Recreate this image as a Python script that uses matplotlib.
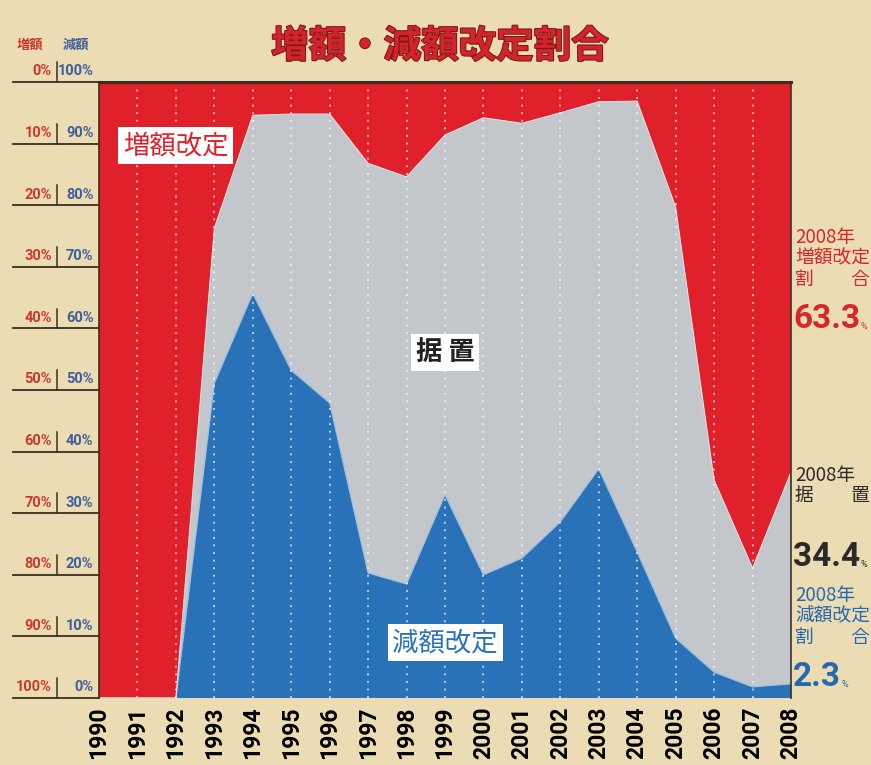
import numpy as np
import matplotlib
matplotlib.use('Agg')
import matplotlib.pyplot as plt
import matplotlib.transforms as mtransforms
import matplotlib.patheffects as pe

plt.rcParams['font.family'] = ['Noto Sans CJK JP', 'DejaVu Sans']

# share of rent revisions per year [%]
years = list(range(1990, 2009))
increase = [100.0, 100.0, 100.0, 23.7, 5.4, 5.2, 5.2, 13.2, 15.4, 8.6,
            5.8, 6.7, 5.0, 3.2, 3.1, 20.3, 64.6, 78.9, 63.3]
unchanged = [0.0, 0.0, 0.0, 25.2, 28.9, 41.6, 46.9, 66.5, 66.1, 58.4,
             74.2, 70.6, 66.4, 59.6, 73.2, 70.0, 31.2, 19.3, 34.4]
decrease = [0.0, 0.0, 0.0, 51.1, 65.7, 53.2, 47.9, 20.3, 18.5, 33.0,
            20.0, 22.7, 28.6, 37.2, 23.7, 9.7, 4.2, 1.8, 2.3]
left_inc = ['0%', '10%', '20%', '30%', '40%', '50%', '60%', '70%', '80%', '90%', '100%']
left_dec = ['100%', '90%', '80%', '70%', '60%', '50%', '40%', '30%', '20%', '10%', '0%']

bg = '#ecdcb4'
red = '#e0202a'
grey = '#c3c6ca'
blue = '#2a72b8'
txt_red = '#c93a2c'
txt_blue = '#3d5f9c'
dark = '#3b2e1e'
num_font = ['Roboto', 'DejaVu Sans']

W, H = 871, 765
fig = plt.figure(figsize=(W/100, H/100), dpi=100, facecolor=bg)
ax = fig.add_axes([99/W, 67/H, 692/W, 616/H])

ax.stackplot(years, decrease, unchanged, increase,
             colors=[blue, grey, red], linewidth=0)
# thin light edges between the layers
dec = np.array(decrease)
mid = dec + np.array(unchanged)
ax.plot(years, dec, color='#9cc0e0', lw=0.9)
ax.plot(years, mid, color='#e6e6e6', lw=0.7)

# white dotted guides at each year
for y in years[1:-1]:
    ax.axvline(y, color='white', lw=1.3, alpha=0.75, ls=(0, (1, 3.2)))

ax.set_xlim(1990, 2008)
ax.set_ylim(0, 100)
ax.set_yticks([])
ax.set_xticks(years)
ax.set_xticklabels([str(y) for y in years], rotation=90, fontsize=16.5,
                   fontweight='bold', family=num_font)
ax.tick_params(axis='x', length=0, pad=6)
for s in ['left', 'right']:
    ax.spines[s].set_color(dark)
    ax.spines[s].set_linewidth(1.2)
ax.spines['top'].set_color(dark)
ax.spines['top'].set_linewidth(2.2)
ax.spines['bottom'].set_visible(False)

# dual left scale: increase from top, decrease from bottom
tr = mtransforms.blended_transform_factory(ax.transAxes, ax.transData)
for i in range(11):
    lvl = 100 - i*10
    ax.plot([-0.124, 0], [lvl, lvl], color=dark, lw=1.3, transform=tr, clip_on=False)
    ax.plot([-0.061, -0.061], [lvl, lvl + 3.2], color=dark, lw=1.1, transform=tr, clip_on=False)
    ax.text(-0.068, lvl + 0.6, left_inc[i], transform=tr, ha='right', va='bottom',
            color=txt_red, fontsize=10.5, fontweight='bold', family=num_font)
    ax.text(-0.008, lvl + 0.6, left_dec[i], transform=tr, ha='right', va='bottom',
            color=txt_blue, fontsize=10.5, fontweight='bold', family=num_font)
fig.text(30/W, 1 - 45/H, '増額', color=txt_red, fontsize=9.5, fontweight='bold',
         ha='center', va='center')
fig.text(76/W, 1 - 45/H, '減額', color=txt_blue, fontsize=9.5, fontweight='bold',
         ha='center', va='center')

fig.text(440/W, 1 - 46/H, '増額・減額改定割合', color='#d3242a', fontsize=27,
         fontweight='bold', ha='center', va='center',
         path_effects=[pe.withStroke(linewidth=1.5, foreground='#7a1a18')])

# layer names
box = dict(boxstyle='square,pad=0.18', fc='white', ec='none')
ax.text(1992.0, 89.7, '増額改定', color=red, fontsize=19, ha='center', va='center', bbox=box)
ax.text(1999.0, 56.1, '据 置', color='#222222', fontsize=19, fontweight='bold',
        ha='center', va='center', bbox=box)
ax.text(1999.0, 9.0, '減額改定', color=blue, fontsize=19, ha='center', va='center', bbox=box)

# 2008 values on the right
def side_label(y_top, lines, value, color):
    x = 795/W
    for k, s in enumerate(lines):
        fig.text(x, 1 - (y_top + k*21)/H, s, color=color, fontsize=13.5,
                 ha='left', va='center')
    t = fig.text(x - 2/W, 1 - (y_top + 82)/H, value, color=color, fontsize=24,
                 fontweight='bold', ha='left', va='center', family=num_font)
    fig.add_artist(plt.Annotation('%', xy=(1, 0.12), xycoords=t, xytext=(0.5, 0),
                                  textcoords='offset points', color=color, fontsize=6.5,
                                  ha='left', va='bottom', family=num_font))

side_label(237, ['2008年', '増額改定', '割　　合'], f'{increase[-1]:.1f}', '#d8262c')
side_label(475, ['2008年', '据　　置'], f'{unchanged[-1]:.1f}', '#2a2a2a')
side_label(595, ['2008年', '減額改定', '割　　合'], f'{decrease[-1]:.1f}', '#2868b0')

fig.savefig('out.png', dpi=100, facecolor=bg)
